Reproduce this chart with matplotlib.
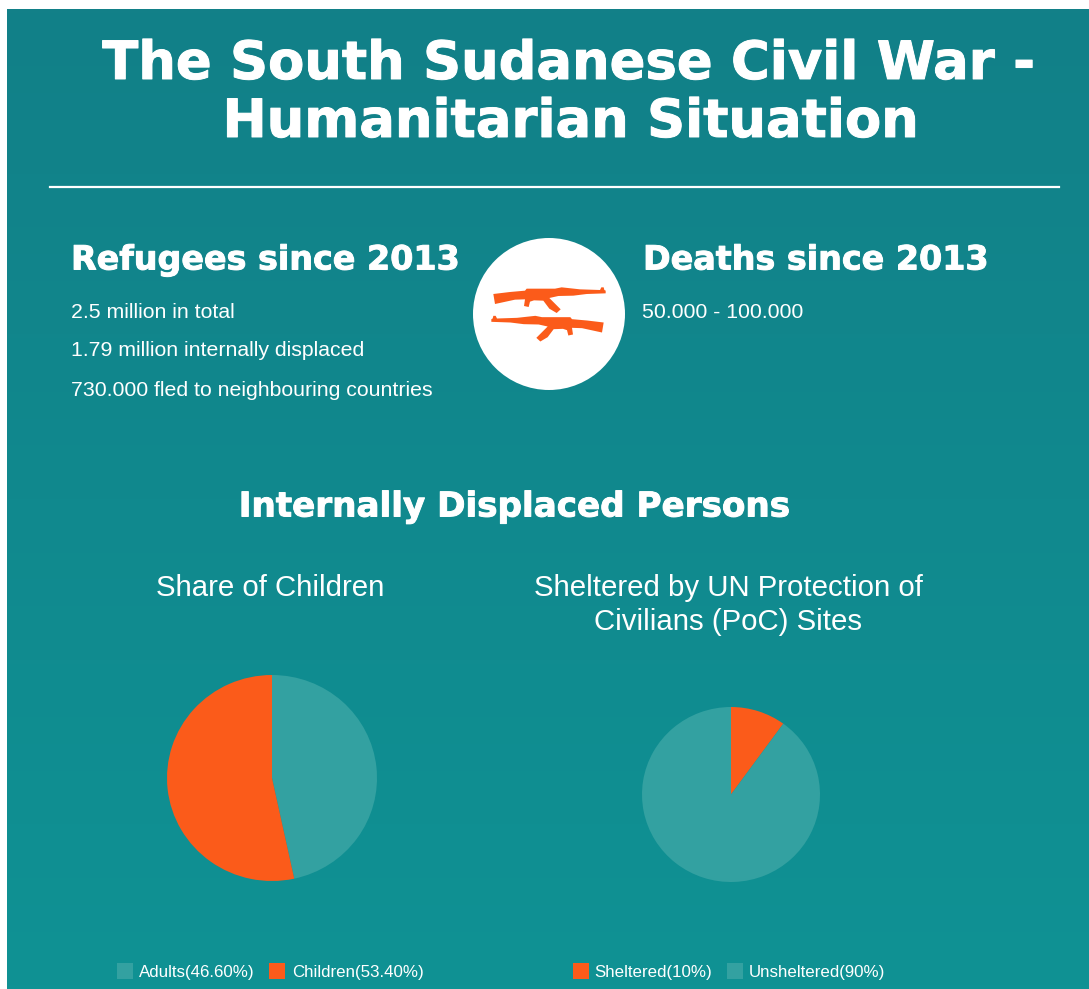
import matplotlib
matplotlib.use('Agg')
import matplotlib.pyplot as plt
from matplotlib.patches import Circle, Polygon, Rectangle
import matplotlib.patheffects as pe
import numpy as np

W, H = 1089, 989
TEAL_TOP = (18 / 255, 128 / 255, 136 / 255)
TEAL_BOT = (15 / 255, 146 / 255, 148 / 255)
ORANGE = "#FB5B1A"
PALE = "#33A1A1"
HEAD = "DejaVu Sans"
BODY = "Liberation Sans"

title_lines = ["The South Sudanese Civil War -", "Humanitarian Situation"]
refugee_lines = ["2.5 million in total", "1.79 million internally displaced",
                 "730.000 fled to neighbouring countries"]
deaths_line = "50.000 - 100.000"

child_labels = ["Adults", "Children"]
child_values = [46.6, 53.4]
child_legend = ["Adults(46.60%)", "Children(53.40%)"]
shelter_labels = ["Sheltered", "Unsheltered"]
shelter_values = [10, 90]
shelter_legend = ["Sheltered(10%)", "Unsheltered(90%)"]

# rifle outline, traced at 3x around (460, 230)
rifle = [(100, 192), (150, 186), (195, 182), (200, 176), (285, 176), (305, 172), (360, 178),
         (420, 180), (424, 172), (431, 172), (433, 180), (437, 182), (437, 190), (380, 192),
         (340, 197), (295, 198), (268, 204), (280, 216), (302, 238), (290, 249), (268, 236),
         (250, 212), (222, 211), (210, 215), (206, 231), (192, 228), (195, 208), (165, 209),
         (105, 222)]


def draw_pie(fig, values, colors, cx, cy, rx, ry):
    ax = fig.add_axes([(cx - rx) / W, 1 - (cy + ry) / H, 2 * rx / W, 2 * ry / H])
    ax.pie(values, colors=colors, startangle=90, counterclock=False, radius=1,
           wedgeprops={"linewidth": 0})
    ax.set_aspect("auto")
    ax.set_xlim(-1, 1)
    ax.set_ylim(-1, 1)
    ax.axis("off")


def draw_legend(ax, x_squares, x_texts, labels, colors):
    for xs, xt, lab, col in zip(x_squares, x_texts, labels, colors):
        ax.add_patch(Rectangle((xs, 963), 16, 16, color=col, lw=0))
        ax.text(xt, 972, lab, color="white", fontsize=12.2, family=BODY, va="center", ha="left")


def heading(ax, x, y, s, size, ha="left"):
    t = ax.text(x, y, s, color="white", fontsize=size, family=HEAD, weight="bold", ha=ha, va="center")
    t.set_path_effects([pe.withStroke(linewidth=0.7, foreground="white")])


fig = plt.figure(figsize=(W / 100, H / 100), dpi=100, facecolor="white")
ax = fig.add_axes([0, 0, 1, 1])
ax.set_xlim(0, W)
ax.set_ylim(H, 0)
ax.axis("off")

# background
grad = np.linspace(0, 1, 256)[:, None, None]
img = (1 - grad) * np.array(TEAL_TOP) + grad * np.array(TEAL_BOT)
ax.imshow(img, extent=(7, W, H, 9), aspect="auto", zorder=0)
ax.set_xlim(0, W)
ax.set_ylim(H, 0)

# header
heading(ax, 568, 64, title_lines[0], 38, ha="center")
heading(ax, 570, 122, title_lines[1], 38, ha="center")
ax.plot([50, 1059], [186.5, 186.5], color="white", lw=1.6)

# refugees / deaths
heading(ax, 71, 260, "Refugees since 2013", 24)
heading(ax, 643, 260, "Deaths since 2013", 24)
for y, line in zip([313, 351, 391], refugee_lines):
    ax.text(71, y, line, color="white", fontsize=15.3, family=BODY, va="center")
ax.text(642, 313, deaths_line, color="white", fontsize=15.3, family=BODY, va="center")

# icon
ax.add_patch(Circle((549, 314), 76, color="white", lw=0, zorder=2))
top_rifle = [(460 + x / 3, 230 + y / 3) for x, y in rifle]
low_rifle = [(1097 - x, y + 28.5) for x, y in top_rifle]
ax.add_patch(Polygon(top_rifle, closed=True, color=ORANGE, lw=0, zorder=3))
ax.add_patch(Polygon(low_rifle, closed=True, color=ORANGE, lw=0, zorder=3))

# lower section
heading(ax, 514, 507, "Internally Displaced Persons", 24.6, ha="center")
ax.text(270, 588, "Share of Children", color="white", fontsize=21.2, family=BODY,
        ha="center", va="center")
ax.text(728, 588, "Sheltered by UN Protection of", color="white", fontsize=21.2, family=BODY,
        ha="center", va="center")
ax.text(728, 622, "Civilians (PoC) Sites", color="white", fontsize=21.2, family=BODY,
        ha="center", va="center")

draw_pie(fig, child_values, [PALE, ORANGE], 272, 778, 105, 103)
draw_pie(fig, shelter_values, [ORANGE, PALE], 731, 794.5, 89, 87.5)

draw_legend(ax, [117, 269], [139, 292], child_legend, [PALE, ORANGE])
draw_legend(ax, [573, 727], [594, 749], shelter_legend, [ORANGE, PALE])

fig.savefig("out.png", dpi=100, facecolor="white")
plt.close(fig)
